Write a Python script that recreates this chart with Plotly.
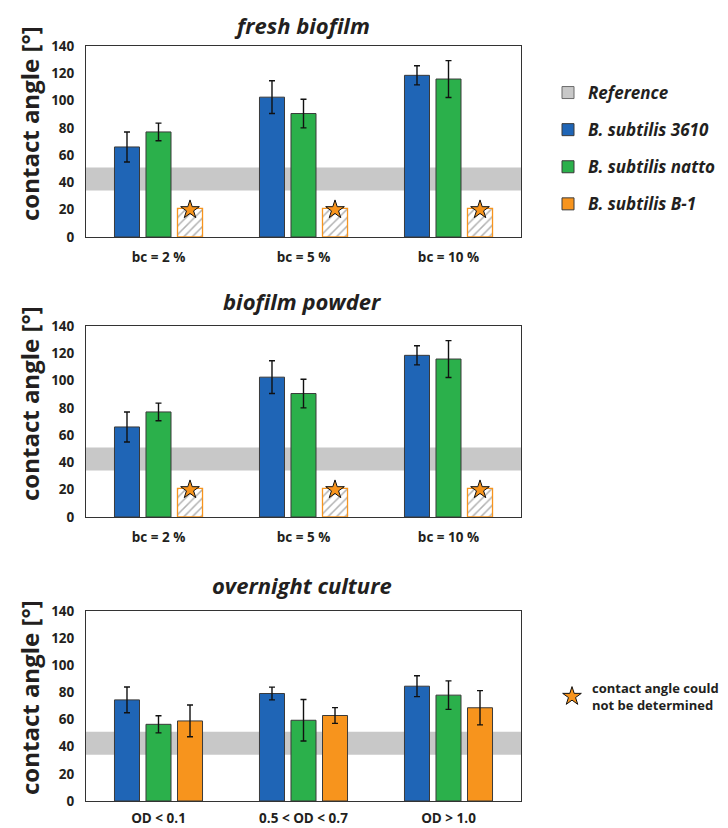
import plotly.graph_objects as go

# ---------------- data ----------------
panel_titles = ["fresh biofilm", "biofilm powder", "overnight culture"]
categories_bc = ["bc = 2 %", "bc = 5 %", "bc = 10 %"]
categories_od = ["OD < 0.1", "0.5 < OD < 0.7", "OD > 1.0"]

series_names = ["B. subtilis 3610", "B. subtilis natto", "B. subtilis B-1"]

fresh_3610 = [66, 102.5, 118.5]
fresh_3610_err = [11, 12, 7]
fresh_natto = [77, 90.5, 115.8]
fresh_natto_err = [6.5, 10.5, 13.5]
fresh_b1_placeholder = [21, 21, 21]

powder_3610 = [66, 102.5, 118.5]
powder_3610_err = [11, 12, 7]
powder_natto = [77, 90.5, 115.8]
powder_natto_err = [6.5, 10.5, 13.5]
powder_b1_placeholder = [21, 21, 21]

overnight_3610 = [74.5, 79.2, 84.6]
overnight_3610_err = [9.5, 4.7, 7.7]
overnight_natto = [56.5, 59.5, 78]
overnight_natto_err = [6.3, 15.3, 10.5]
overnight_b1 = [59, 63, 68.7]
overnight_b1_err = [11.7, 5.8, 12.6]

star_level = [20, 20, 20]
reference_range = [34, 51]

y_ticks = [0, 20, 40, 60, 80, 100, 120, 140]

# ---------------- styles ----------------
FONT = "Open Sans"
TXT = "#231f20"
C_BLUE = "#1f65b6"
C_GREEN = "#2bb04b"
C_ORANGE = "#f7941d"
C_REF = "#c8c8c8"
C_EDGE = "#3a3a3a"
BARGAP = 0.348
BARGROUPGAP = 0.206

# page body has an 8px margin, so the figure is 8px smaller than the window
W, H = 720, 820
OFF = 8
def px_x(v):
    return (v - OFF) / W
def px_y(v):
    return 1 - (v - OFF) / H

x_dom = [px_x(86), px_x(521)]
panels_px = [(46, 237), (326, 517), (611, 801)]
y_doms = [[px_y(b), px_y(t)] for (t, b) in panels_px]
title_px = [25, 301, 585]
ytitle_px = [124, 404, 698]
xlabel_standoff = [8, 8, 5]

fig = go.Figure()

def err(arr):
    return dict(type="data", array=arr, visible=True, color="#111111", thickness=1.4, width=3)

positions = list(range(3))
slot = (1 - BARGAP) / 3
star_x = [p + slot for p in positions]

panel_data = [
    (fresh_3610, fresh_3610_err, fresh_natto, fresh_natto_err, fresh_b1_placeholder, None, True),
    (powder_3610, powder_3610_err, powder_natto, powder_natto_err, powder_b1_placeholder, None, True),
    (overnight_3610, overnight_3610_err, overnight_natto, overnight_natto_err, overnight_b1, overnight_b1_err, False),
]

# legend-only reference entry (scatter, so it does not take a bar slot)
fig.add_trace(go.Scatter(x=[None], y=[None], mode="markers", name="Reference",
                         marker=dict(symbol="square", size=12, color=C_REF, line=dict(color="#6a6a6a", width=1)),
                         legendgroup="ref", legendrank=1, showlegend=True, xaxis="x", yaxis="y"))

for i, (b, be, g, ge, o, oe, hatched) in enumerate(panel_data):
    xa = "x" if i == 0 else f"x{i+1}"
    ya = "y" if i == 0 else f"y{i+1}"
    last = (i == 2)
    fig.add_trace(go.Bar(x=positions, y=b, error_y=err(be), name=series_names[0],
                         marker=dict(color=C_BLUE, line=dict(color=C_EDGE, width=1)),
                         legendgroup="3610", legendrank=2, showlegend=last, xaxis=xa, yaxis=ya))
    fig.add_trace(go.Bar(x=positions, y=g, error_y=err(ge), name=series_names[1],
                         marker=dict(color=C_GREEN, line=dict(color=C_EDGE, width=1)),
                         legendgroup="natto", legendrank=3, showlegend=last, xaxis=xa, yaxis=ya))
    if hatched:
        fig.add_trace(go.Bar(x=positions, y=o, name=series_names[2],
                             marker=dict(color="white", line=dict(color=C_ORANGE, width=1.3),
                                         pattern=dict(shape="/", fgcolor="#666666", bgcolor="white",
                                                      size=6, solidity=0.25)),
                             legendgroup="b1", showlegend=False, xaxis=xa, yaxis=ya))
        fig.add_trace(go.Scatter(x=star_x, y=star_level, mode="markers",
                                 name="contact angle could<br>not be determined",
                                 marker=dict(symbol="star", size=14, color=C_ORANGE,
                                             line=dict(color="#111111", width=1)),
                                 legend="legend2", showlegend=(i == 0), xaxis=xa, yaxis=ya))
    else:
        fig.add_trace(go.Bar(x=positions, y=o, error_y=err(oe), name=series_names[2],
                             marker=dict(color=C_ORANGE, line=dict(color=C_EDGE, width=1)),
                             legendgroup="b1", legendrank=4, showlegend=True, xaxis=xa, yaxis=ya))

    cats = categories_od if last else categories_bc
    xkey = "xaxis" if i == 0 else f"xaxis{i+1}"
    ykey = "yaxis" if i == 0 else f"yaxis{i+1}"
    fig.update_layout(**{
        xkey: dict(domain=x_dom, anchor=ya, range=[-0.5, 2.5], tickvals=positions, ticktext=cats,
                   showline=True, mirror=True, linecolor="#333333", linewidth=1, ticks="",
                   showgrid=False, zeroline=False, ticklabelstandoff=xlabel_standoff[i], automargin=False,
                   tickfont=dict(family=FONT, size=13.5, color=TXT, weight="bold")),
        ykey: dict(domain=y_doms[i], anchor=xa, range=[0, 140], tickvals=y_ticks,
                   showline=True, mirror=True, linecolor="#333333", linewidth=1, ticks="",
                   showgrid=False, zeroline=False, ticklabelstandoff=8, automargin=False,
                   tickfont=dict(family=FONT, size=13.5, color=TXT, weight="bold")),
    })
    fig.add_shape(type="rect", xref=f"{xa} domain", yref=ya, x0=0, x1=1,
                  y0=reference_range[0], y1=reference_range[1],
                  fillcolor=C_REF, line=dict(width=0), layer="below")
    fig.add_annotation(text=panel_titles[i], xref="paper", yref="paper", x=px_x(302), y=px_y(title_px[i]),
                       showarrow=False, xanchor="center", yanchor="middle",
                       font=dict(family=FONT, size=22, color=TXT, weight="bold", style="italic"))
    fig.add_annotation(text="contact angle [°]", xref="paper", yref="paper", x=px_x(29),
                       y=px_y(ytitle_px[i]), textangle=-90,
                       showarrow=False, xanchor="center", yanchor="middle",
                       font=dict(family=FONT, size=24, color=TXT, weight="bold"))

fig.update_layout(
    width=W, height=H,
    margin=dict(l=0, r=0, t=0, b=0),
    paper_bgcolor="white", plot_bgcolor="white",
    barmode="group", bargap=BARGAP, bargroupgap=BARGROUPGAP,
    legend=dict(x=px_x(548), y=px_y(75), xanchor="left", yanchor="top", tracegroupgap=12,
                font=dict(family=FONT, size=17, color=TXT, weight="bold", style="italic"),
                bgcolor="rgba(0,0,0,0)", itemclick=False),
    legend2=dict(x=px_x(552), y=px_y(673), xanchor="left", yanchor="top",
                 font=dict(family=FONT, size=13, color=TXT, weight="bold"),
                 bgcolor="rgba(0,0,0,0)"),
    showlegend=True,
)

fig.write_html("out.html")
